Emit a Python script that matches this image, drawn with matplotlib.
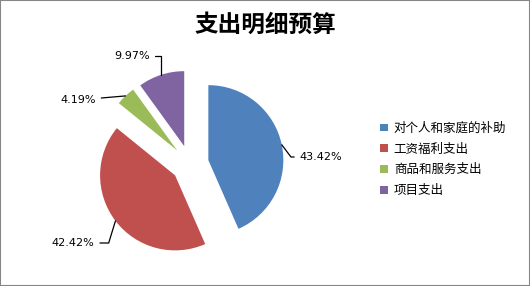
import numpy as np
import matplotlib.pyplot as plt
from matplotlib.patches import Rectangle

plt.rcParams['font.family'] = ['Noto Sans CJK SC', 'DejaVu Sans']

# data
categories = ['对个人和家庭的补助', '工资福利支出', '商品和服务支出', '项目支出']
values = [43.42, 42.42, 4.19, 9.97]
colors = ['#4F81BD', '#C0504D', '#9BBB59', '#8064A2']

W, H = 530, 286
cx, cy, r = 190, 164, 75  # pie centre and radius in pixels
explode = 0.25

fig = plt.figure(figsize=(W / 100, H / 100), dpi=100)
ax = fig.add_axes([0, 0, 1, 1])

wedges, _ = ax.pie(values, colors=colors, startangle=90, counterclock=False,
                   explode=[explode] * 4, radius=1,
                   wedgeprops=dict(linewidth=0))

ax.set_xlim(-cx / r, (W - cx) / r)
ax.set_ylim(-(H - cy) / r, cy / r)
ax.axis('off')

# label positions (pixels) and leader-line styles
label_px = [(321, 157), (73, 243), (78, 100), (132, 56)]
conn = ['angle,angleA=0,angleB=127,rad=0',
        'angle,angleA=0,angleB=73,rad=0',
        'arc3,rad=0',
        'angle,angleA=0,angleB=90,rad=0']

for w, v, (px, py), cs in zip(wedges, values, label_px, conn):
    mid = np.deg2rad((w.theta1 + w.theta2) / 2)
    ox, oy = w.center
    xy = (ox + np.cos(mid), oy + np.sin(mid))
    ax.annotate(f'{v:.2f}%', xy=xy, xytext=((px - cx) / r, (cy - py) / r),
                ha='center', va='center', fontsize=8, family='DejaVu Sans',
                arrowprops=dict(arrowstyle='-', color='black', lw=0.9,
                                connectionstyle=cs, shrinkA=2, shrinkB=0))

fig.text(265 / W, 1 - 25 / H, '支出明细预算', ha='center', va='center',
         fontsize=17, fontweight='bold')

fig.legend(wedges, categories, loc='center left',
           bbox_to_anchor=(380 / W, 1 - 159.5 / H), frameon=False,
           fontsize=9, handlelength=0.6, handleheight=0.6, handletextpad=0.5,
           labelspacing=0.62, borderpad=0, borderaxespad=0)

fig.patches.append(Rectangle((0, 0), 1, 1, transform=fig.transFigure,
                             fill=False, edgecolor='#868686', lw=1.5))

fig.savefig('out.png', dpi=100)
